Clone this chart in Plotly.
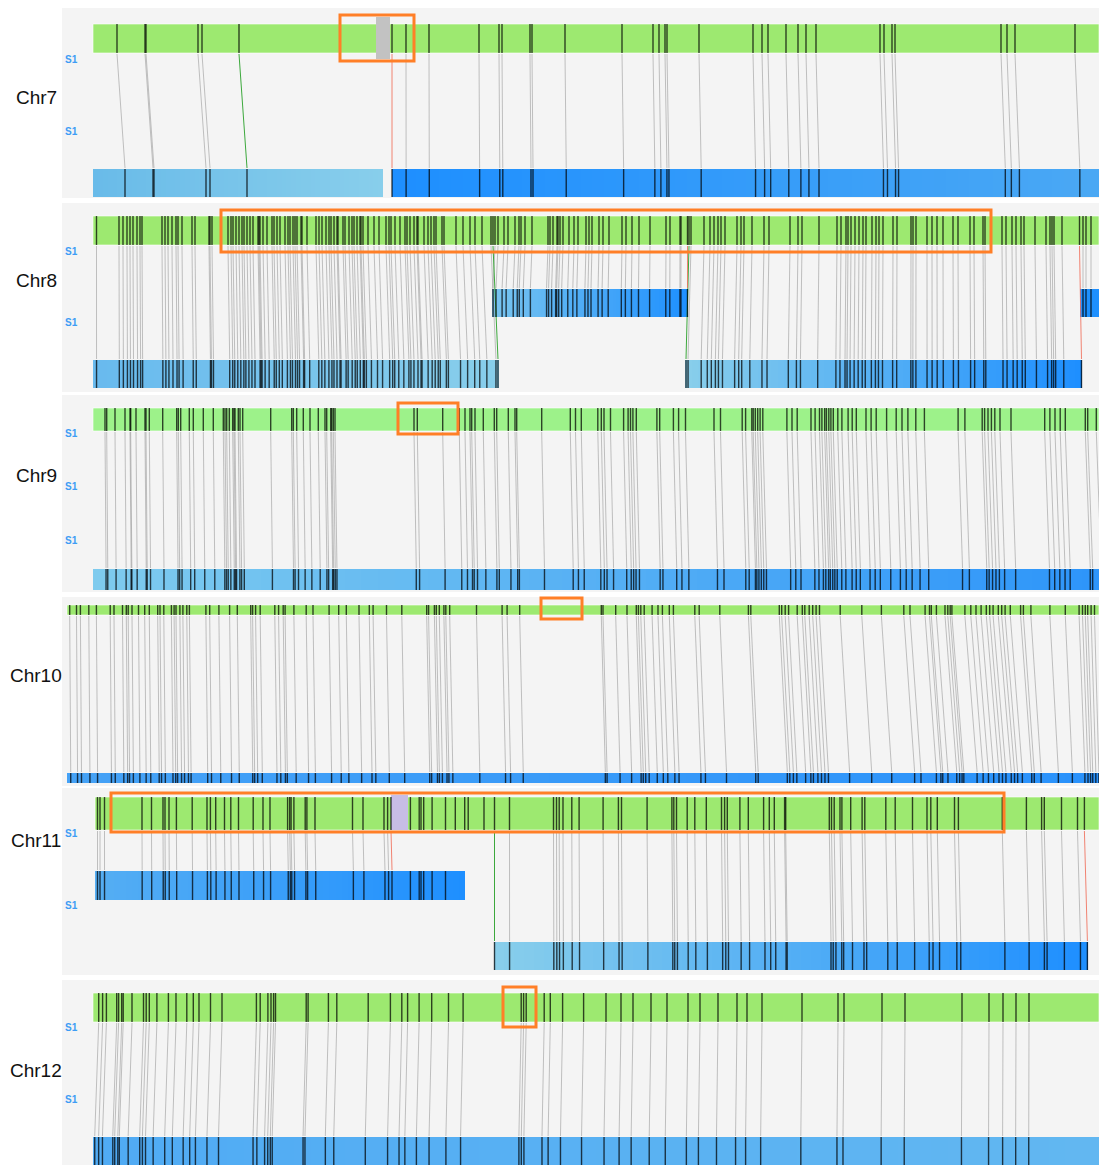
import numpy as np
import plotly.graph_objects as go

# ------------------------------------------------------------------ data
chromosomes = ["Chr7", "Chr8", "Chr9", "Chr10", "Chr11", "Chr12"]

# anchor (gene) positions on the reference (top, green) chromosome
chr7_top = [117, 145, 146, 198, 202, 239, 392, 406, 429, 479, 499, 502, 530, 532, 565, 622, 653, 659,
            665, 667, 699, 753, 762, 768, 786, 798, 806, 816, 880, 884, 892, 895, 1001, 1007, 1015, 1075]

chr8_top = [96.5, 119, 123, 127, 130, 133, 137, 140, 142, 162, 165, 168, 172, 176, 178, 182, 192, 195, 209,
            210, 212, 228, 231, 233, 236, 239, 242, 244, 247, 250, 253, 258, 259, 260, 263, 267, 272, 274,
            277, 280, 285, 288, 290, 293, 295, 297, 301, 302, 307, 316, 319, 322, 326, 329, 331, 334, 337,
            338, 343, 345, 349, 352, 354, 357, 360, 361, 363, 368, 374, 379, 386, 389, 391, 395, 400, 405,
            407, 410, 414, 417, 418, 424, 428, 431, 434, 436, 442, 444, 456, 463, 470, 475, 482, 491, 493,
            495, 498, 504, 508, 515, 519, 521, 525, 532, 548, 550, 553, 557, 558, 560, 563, 569, 574, 578,
            586, 589, 592, 599, 603, 609, 622, 626, 632, 639, 650, 666, 670, 680, 681, 687.5, 689, 691, 704,
            710, 714, 718, 721, 725, 737, 741, 744, 752, 764, 769, 790, 798, 802, 819, 837, 841, 846, 848,
            851, 855, 859, 863, 866, 872, 876, 879, 883, 893, 897, 911, 913, 916, 927, 932, 937, 943, 953,
            958, 970, 974, 983, 985, 1002, 1006, 1012, 1016, 1021, 1024, 1035, 1046, 1050, 1052, 1054,
            1062, 1079.5, 1083, 1086, 1091]

chr9_top = [105, 106.7, 115, 125, 130, 130.7, 136, 145, 146, 149.3, 162.7, 176.7, 178.3, 180.7, 189.3,
            193.3, 203.3, 213.3, 223.3, 225, 226.7, 229.3, 232.7, 234, 235, 238.3, 240, 242.7, 270.7, 291.7,
            293.3, 296.7, 303.3, 310, 318.3, 325, 326.7, 330.7, 331.7, 333.3, 335, 414, 417.3, 442.7, 459.3,
            465, 470, 471.7, 475, 483.3, 494.3, 496.7, 508.3, 515, 516.7, 541.7, 570.3, 575.5, 581.3, 597.8,
            601.3, 604.0, 610.5, 623.6, 628.1, 630.5, 632.9, 636.3, 656.9, 659.7, 673.4, 678.6, 685.5, 714.0,
            720.5, 742.2, 745.6, 751.8, 753.2, 755.3, 757.7, 760.1, 762.8, 786.9, 792.0, 797.2, 811.0, 815.1,
            819.5, 821.9, 824.7, 826.4, 828.8, 830.9, 833.3, 837.8, 841.9, 848.1, 852.2, 856.3, 866.0, 871.1,
            876.2, 886.6, 896.2, 902.0, 907.9, 915.8, 924.4, 958.1, 964.9, 982.2, 984.6, 988.0, 991.4, 994.8,
            1000.0, 1011.0, 1044.7, 1049.9, 1055.0, 1060.2, 1065.3, 1085.3, 1087.7, 1096.3]

chr10_top = [69.7, 76.5, 80.4, 88.8, 96.4, 110.2, 114.0, 122.5, 126.3, 128.2, 132.0, 138.5, 144.7, 149.3,
             157.7, 160.0, 163.8, 171.4, 174.1, 176.0, 179.9, 182.9, 186.8, 189.4, 205.9, 209.7, 218.9, 229.6,
             237.3, 250.7, 252.6, 255.6, 260.2, 274.8, 278.6, 283.2, 285.1, 293.9, 306.2, 313.0, 329.1, 338.7,
             346.3, 359.0, 369.3, 373.1, 386.5, 401.8, 426.7, 428.6, 434.4, 436.3, 439.3, 443.9, 445.8, 449.7,
             476.5, 502.1, 507.1, 519.7, 601.3, 603.0, 615.7, 627.0, 636.3, 638.4, 640.8, 644.2, 652.1, 658.0,
             662.4, 669.3, 673.4, 694.8, 699.2, 719.8, 748.4, 750.8, 779.3, 781.7, 785.2, 788.6, 797.2, 802.3,
             804.8, 809.2, 812.7, 816.1, 819.5, 840.2, 861.8, 881.4, 903.8, 910.0, 925.1, 929.5, 931.3, 936.4,
             945.0, 947.8, 950.2, 951.9, 964.9, 970.8, 976.0, 981.1, 986.3, 989.7, 993.1, 998.3, 1001.7,
             1005.1, 1010.3, 1020.6, 1023.4, 1030.9, 1049.9, 1065.3, 1079.1, 1082.5, 1085.3, 1087.7, 1091.1,
             1094.5]

chr11_top = [97.5, 100, 104.5, 142, 151.5, 163, 165, 169, 176.4, 192.2, 207, 210.4, 215.7, 224.5, 230.8,
             238.5, 253.2, 263, 270, 287.6, 289.7, 291.1, 293.9, 305.2, 306.9, 315, 352.5, 363, 384, 387.6,
             391, 410.4, 419.2, 421, 423.7, 432.1, 445.5, 455.3, 464.7, 468.2, 484, 494.5, 509.5, 553.5,
             556.5, 559.2, 563, 571.8, 579.1, 603.1, 618.4, 621.5, 647.1, 671.9, 673.8, 676.5, 687.2, 694.8,
             706.3, 721.5, 724.6, 727.3, 739.9, 748.3, 763.6, 769.3, 774.3, 784.6, 785.7, 829.3, 831.5, 834.2,
             840, 841.9, 850.7, 862.1, 864.8, 885.8, 895.2, 912.5, 927, 930.8, 937.3, 954.5, 958.4, 1002.3,
             1026.4, 1041.6, 1044.3, 1061.5, 1077.5, 1084.4]

chr12_top = [98.7, 102.6, 106.4, 116.7, 118.6, 121.7, 123.2, 132, 143.5, 146.2, 149.3, 156.9, 168.4, 176,
             186.8, 193.3, 199, 210.5, 222, 256.4, 260.2, 267.9, 271, 273.6, 275.5, 306.2, 308.1, 328.4,
             336.8, 368.2, 390.4, 401.8, 407.6, 419.1, 431.7, 448.5, 463.1, 521.2, 523.6, 526.2, 544.2,
             550.3, 562.6, 583.6, 606, 621, 633, 651, 667, 688, 700, 718, 737, 747, 762, 802, 838, 844, 882,
             905, 962, 989, 1003, 1016, 1029]

# collinear blocks: top start, top end, target track, target start, target end, links drawn
chr7_blocks = [(93, 376, "low", 101, 384, True), (390, 1099, "low", 390, 1104, True)]
chr8_blocks = [(93, 494, "low", 93, 499, True), (494, 688, "mid", 492, 688, True),
               (688, 1080, "low", 685, 1082, True), (1080, 1099, "mid", 1080, 1099, True)]
chr9_blocks = [(93, 1099, "low", 94, 1104, True)]
chr10_blocks = [(67, 600, "low", 68, 604, True), (600, 1000, "low", 604, 1013, True),
                (1000, 1099, "low", 1013, 1103, True)]
chr11_blocks = [(95, 392, "mid", 95, 393, True), (400, 447, "mid", 400, 447, False),
                (493, 1085, "low", 493, 1088, True)]
chr12_blocks = [(93, 1099, "low", 89, 1099, True)]

# coloured (highlighted) links, by top position
chr7_green_links, chr7_red_links = [239], [392]
chr8_green_links, chr8_red_links = [493, 689], [687.5, 1079.5]
chr11_green_links, chr11_red_links = [494.5], [391, 1084.4]

# chromosome extents
top_extent = {"Chr7": (93, 1099), "Chr8": (93, 1099), "Chr9": (93, 1099),
              "Chr10": (67, 1099), "Chr11": (95, 1099), "Chr12": (93, 1099)}
query_segments = {
    "Chr7": [("low", 93, 383), ("low", 392, 1099)],
    "Chr8": [("low", 93, 499), ("mid", 492, 688), ("low", 685, 1082), ("mid", 1080, 1099)],
    "Chr9": [("low", 93, 1099)],
    "Chr10": [("low", 67, 1099)],
    "Chr11": [("mid", 95, 465), ("low", 494, 1088)],
    "Chr12": [("low", 93, 1099)],
}
gap_regions = {"Chr7": [(376, 390)], "Chr11": [(391, 408)]}
highlight_regions = {"Chr7": [(340, 414)], "Chr8": [(221, 991)], "Chr9": [(398, 458)],
                     "Chr10": [(541, 582)], "Chr11": [(111, 1004)], "Chr12": [(503, 536)]}

# ------------------------------------------------------------------ styles
segment_colors = {
    "Chr7": [("#69bbe9", "#88ceeb"), ("#1e8fff", "#4aa8f4")],
    "Chr8": [("#68baee", "#88ceeb"), ("#78c4ef", "#1e90ff"), ("#88ceeb", "#1e8fff"), ("#1e90ff", "#1e90ff")],
    "Chr9": [("#7ecbee", "#2e95fa")],
    "Chr10": [("#45a2f6", "#2a92fb")],
    "Chr11": [("#55aef3", "#1e8fff"), ("#88ceeb", "#1e8fff")],
    "Chr12": [("#50abf4", "#62b7f1")],
}
gap_colors = {"Chr7": "#c2c2c2", "Chr11": "#c7bde5"}
green = {"Chr7": "#9de970", "Chr8": "#9de970", "Chr9": "#9df28a", "Chr10": "#9de970",
         "Chr11": "#9de970", "Chr12": "#9de970"}
layout_rows = {
    "Chr7": dict(panel=(8, 198), top=(24, 53), low=(169, 197), label=97, s1=[59, 131], gap=(17, 59), box=(15, 61)),
    "Chr8": dict(panel=(203, 392), top=(216, 245), mid=(289, 317), low=(360, 388), label=280, s1=[251, 322], box=(210, 252)),
    "Chr9": dict(panel=(395, 592), top=(408, 431), low=(569, 590), label=475, s1=[433, 486, 540], box=(403, 434)),
    "Chr10": dict(panel=(597, 786), top=(605, 615), low=(773, 783), label=675, s1=[], box=(598, 619)),
    "Chr11": dict(panel=(788, 975), top=(797, 830), mid=(871, 900), low=(942, 970), label=840, s1=[833, 905], gap=(795, 830), box=(793, 832)),
    "Chr12": dict(panel=(980, 1165), top=(993, 1022), low=(1137, 1165), label=1070, s1=[1027, 1099], box=(987, 1027)),
}
PANEL_X0 = 62
W, H = 1099, 1165

top_ticks = {"Chr7": chr7_top, "Chr8": chr8_top, "Chr9": chr9_top, "Chr10": chr10_top,
             "Chr11": chr11_top, "Chr12": chr12_top}
blocks = {"Chr7": chr7_blocks, "Chr8": chr8_blocks, "Chr9": chr9_blocks, "Chr10": chr10_blocks,
          "Chr11": chr11_blocks, "Chr12": chr12_blocks}
green_links = {"Chr7": chr7_green_links, "Chr8": chr8_green_links, "Chr11": chr11_green_links}
red_links = {"Chr7": chr7_red_links, "Chr8": chr8_red_links, "Chr11": chr11_red_links}

fig = go.Figure()
shapes, annotations = [], []

tick_x, tick_y = [], []
link = {"gray": ([], []), "green": ([], []), "red": ([], [])}

for chrom in chromosomes:
    st = layout_rows[chrom]
    # panel background
    shapes.append(dict(type="rect", xref="x", yref="y", x0=PANEL_X0, x1=W, y0=st["panel"][0], y1=st["panel"][1],
                       fillcolor="#f4f4f4", line=dict(width=0), layer="below"))
    # reference chromosome (top)
    tx0, tx1 = top_extent[chrom]
    shapes.append(dict(type="rect", xref="x", yref="y", x0=tx0, x1=tx1, y0=st["top"][0], y1=st["top"][1],
                       fillcolor=green[chrom], line=dict(color="rgba(255,255,255,0.6)", width=1), layer="below"))
    for (g0, g1) in gap_regions.get(chrom, []):
        shapes.append(dict(type="rect", xref="x", yref="y", x0=g0, x1=g1, y0=st["gap"][0], y1=st["gap"][1],
                           fillcolor=gap_colors[chrom], line=dict(width=0), layer="below"))
    # query chromosome segments (gradient bars)
    for (trk, s0, s1), (c0, c1) in zip(query_segments[chrom], segment_colors[chrom]):
        n = 60
        y0, y1 = st[trk]
        fig.add_trace(go.Heatmap(x=np.linspace(s0, s1, n + 1), y=[y0, y1], z=[np.linspace(0, 1, n).tolist()],
                                 colorscale=[[0, c0], [1, c1]], zmin=0, zmax=1, showscale=False,
                                 hoverinfo="skip"))
    # anchors, links
    ybot_top = st["top"][1]
    for p in top_ticks[chrom]:
        tick_x += [p, p, None]
        tick_y += [st["top"][0], st["top"][1], None]
        for (a0, a1, trk, b0, b1, show) in blocks[chrom]:
            if a0 <= p <= a1:
                q = b0 + (p - a0) * (b1 - b0) / (a1 - a0)
                ty0, ty1 = st[trk]
                tick_x += [q, q, None]
                tick_y += [ty0, ty1, None]
                if show:
                    if p in green_links.get(chrom, []):
                        key = "green"
                    elif p in red_links.get(chrom, []):
                        key = "red"
                    else:
                        key = "gray"
                    link[key][0].extend([p, q, None])
                    link[key][1].extend([ybot_top + 1, ty0 - 1, None])
                break
    # highlight boxes
    for (h0, h1) in highlight_regions[chrom]:
        shapes.append(dict(type="rect", xref="x", yref="y", x0=h0, x1=h1, y0=st["box"][0], y1=st["box"][1],
                           line=dict(color="#ff7f27", width=3), fillcolor="rgba(0,0,0,0)", layer="above"))
    # labels
    annotations.append(dict(x=36, y=st["label"], xref="x", yref="y", text=chrom, showarrow=False,
                            font=dict(family="Liberation Sans, Arial", size=19, color="#111111"),
                            xanchor="center", yanchor="middle"))
    for sy in st["s1"]:
        annotations.append(dict(x=71, y=sy, xref="x", yref="y", text="<b>S1</b>", showarrow=False,
                                font=dict(family="Liberation Sans, Arial", size=10, color="#3d9df5"),
                                xanchor="center", yanchor="middle"))

link_styles = {"gray": "rgba(125,125,125,0.45)", "green": "rgba(40,160,40,0.9)", "red": "rgba(240,110,90,0.85)"}
for key in ["gray", "green", "red"]:
    fig.add_trace(go.Scatter(x=link[key][0], y=link[key][1], mode="lines",
                             line=dict(color=link_styles[key], width=1), hoverinfo="skip", showlegend=False))
fig.add_trace(go.Scatter(x=tick_x, y=tick_y, mode="lines", line=dict(color="rgba(0,0,0,0.72)", width=1.4),
                         hoverinfo="skip", showlegend=False))

fig.update_layout(
    width=W, height=H, margin=dict(l=0, r=0, t=0, b=0),
    paper_bgcolor="white", plot_bgcolor="white", showlegend=False,
    xaxis=dict(range=[0, W], visible=False, fixedrange=True),
    yaxis=dict(range=[H, 0], visible=False, fixedrange=True),
    shapes=shapes, annotations=annotations,
)
fig.write_html("out.html", config={"displayModeBar": False},
               post_script="document.body.style.margin='0';document.body.style.overflow='hidden';")
